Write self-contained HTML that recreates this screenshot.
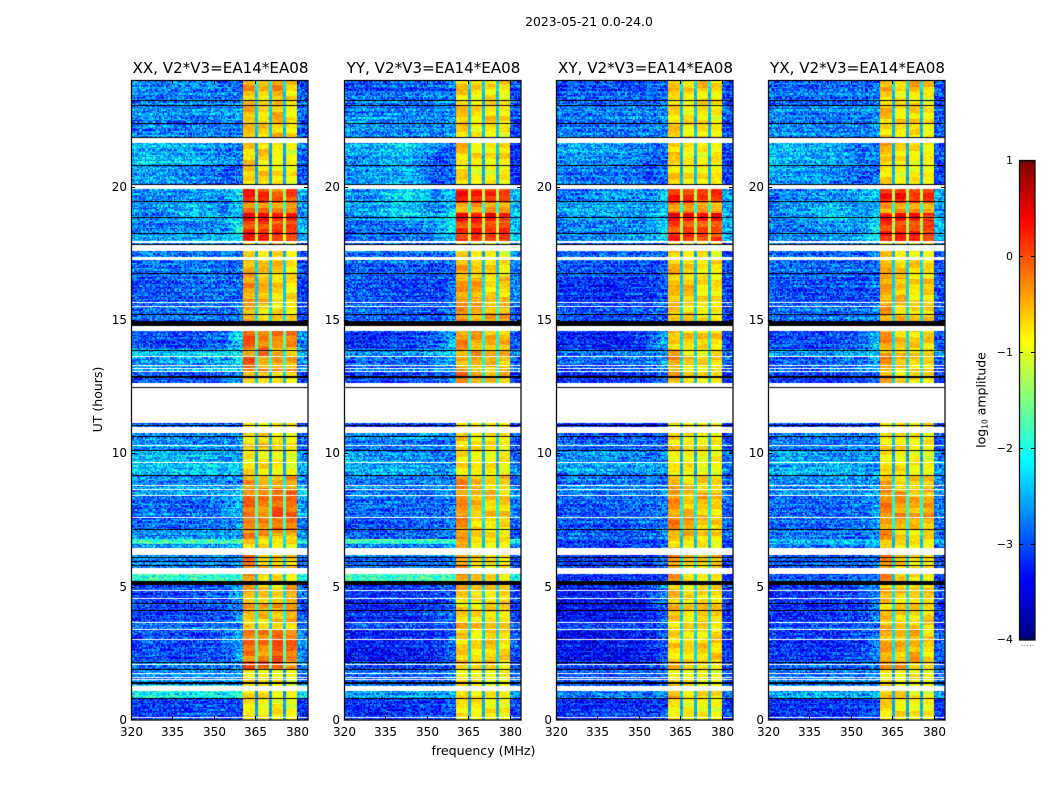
<!DOCTYPE html>
<html lang="en">
<head>
<meta charset="utf-8">
<title>2023-05-21 0.0-24.0</title>
<style>
html,body{margin:0;padding:0;background:#fff;}
#figure{position:relative;width:1050px;height:800px;overflow:hidden;background:#fff;font-family:"DejaVu Sans","Liberation Sans",sans-serif;}
canvas{position:absolute;display:block;}
svg{position:absolute;left:0;top:0;}
text{font-family:"DejaVu Sans","Liberation Sans",sans-serif;fill:#000;}
</style>
</head>
<body>
<div id="figure">
<canvas id="c0" width="177" height="640" style="left:131px;top:80px"></canvas>
<canvas id="c1" width="177" height="640" style="left:344px;top:80px"></canvas>
<canvas id="c2" width="177" height="640" style="left:556px;top:80px"></canvas>
<canvas id="c3" width="177" height="640" style="left:768px;top:80px"></canvas>
<svg id="overlay" width="1050" height="800" viewBox="0 0 1050 800">
<text x="589" y="26" font-size="12.4" text-anchor="middle">2023-05-21 0.0-24.0</text>
<text x="483.5" y="755" font-size="12.6" text-anchor="middle">frequency (MHz)</text>
<text transform="translate(102 399.5) rotate(-90)" font-size="12.5" text-anchor="middle">UT (hours)</text>
<text transform="translate(985.5 400) rotate(-90)" font-size="12.5" text-anchor="middle">log<tspan font-size="7.5" dy="2">10</tspan><tspan dy="-2"> amplitude</tspan></text>
</svg>
</div>
<script>
/* Axis tick labels */
const freqTicks = [320, 335, 350, 365, 380];
const utTicks = [0, 5, 10, 15, 20];
const colorTicks = [1, 0, -1, -2, -3, -4];
const panelTitles = ["XX, V2*V3=EA14*EA08", "YY, V2*V3=EA14*EA08", "XY, V2*V3=EA14*EA08", "YX, V2*V3=EA14*EA08"];

/* UT edges of the time segments (hours, descending) */
const segmentEdges = [24,23.6,23.05,22.6,21.85,21.2,20.8,20.06,19.4,19,18.7,18.3,17.97,17.25,16.6,15.6,14.97,13.9,13.6,13.05,12.65,11.12,10.75,10.1,9.66,9.19,8.68,8.4,7.6,7.17,6.9,6.79,6.6,6.19,5.71,5.22,4.57,3.67,3.4,2.2,1.92,1.29,0.8,0];

/* Frequency zones (MHz): one log10-amplitude value per zone in each row below */
const zoneEdges = [320,335,350,357,360.6,365,366,370.2,371,375,376,380,384];
const zoneSource = [0,1,2,3,4,-1,5,-1,6,-1,7,8];
const quietCentres = [327.5,342.5,353.5,358.8];

/* log10 amplitude per segment: 320-335, 335-350, 350-357, 357-360.6, band1, band2, band3, band4, 380-384 */
const seriesXX = [
[-2.5,-2.5,-2.6,-2.7,-0.45,-0.6,-0.4,-0.65,-2.9],
[-2.6,-2.6,-2.6,-2.6,-0.55,-0.75,-0.55,-0.8,-2.8],
[-2.5,-2.5,-2.5,-2.4,-0.5,-0.7,-0.5,-0.75,-2.7],
[-2.55,-2.6,-2.6,-2.5,-0.6,-0.7,-0.6,-0.8,-2.9],
[-2.3,-2.4,-2.6,-2.6,-0.6,-0.6,-0.7,-0.9,-2.7],
[-2.2,-2.3,-2.5,-2.6,-0.7,-0.8,-1.0,-0.9,-2.8],
[-2.4,-2.5,-2.7,-2.7,-0.6,-0.7,-0.8,-0.9,-2.9],
[-2.6,-2.5,-2.5,-2.1,0.2,0.15,-0.1,0.0,-2.5],
[-2.5,-2.2,-2.6,-2.3,-0.3,-0.3,-0.4,-0.4,-2.6],
[-2.6,-2.2,-2.4,-2.2,0.45,0.4,0.3,0.3,-2.5],
[-2.6,-2.6,-2.5,-1.9,0.1,0.1,0.0,0.0,-2.4],
[-2.4,-2.3,-2.3,-2.0,0.25,0.2,0.15,0.15,-2.5],
[-2.6,-2.6,-2.6,-2.6,-0.6,-0.8,-0.7,-0.95,-3.0],
[-2.7,-2.6,-2.7,-2.7,-0.45,-0.6,-0.6,-0.75,-2.9],
[-2.8,-2.7,-2.7,-2.7,-0.4,-0.55,-0.7,-0.8,-3.0],
[-2.7,-2.6,-2.7,-2.6,-0.5,-0.7,-0.7,-0.7,-3.0],
[-2.8,-2.9,-2.7,-2.1,-0.05,-0.2,-0.3,-0.3,-2.6],
[-2.2,-2.2,-2.1,-2.0,-0.4,-0.25,-0.5,-0.6,-2.4],
[-2.5,-2.5,-2.4,-2.2,-0.15,-0.4,-0.4,-0.5,-2.7],
[-2.8,-2.8,-2.7,-2.5,-0.5,-0.7,-0.8,-0.7,-3.0],
[-2.8,-2.8,-2.8,-2.8,-0.6,-0.7,-0.8,-0.8,-3.0],
[-2.7,-2.7,-2.7,-2.7,-0.7,-0.7,-0.8,-0.8,-2.9],
[-2.5,-2.5,-2.5,-2.5,-0.7,-0.65,-0.75,-0.85,-2.8],
[-2.3,-2.3,-2.4,-2.4,-0.8,-0.8,-0.9,-0.95,-2.6],
[-2.2,-2.2,-2.2,-2.2,-0.75,-0.75,-0.8,-0.9,-2.4],
[-2.5,-2.5,-2.5,-2.5,-0.45,-0.6,-0.6,-0.4,-2.6],
[-2.4,-2.4,-2.4,-2.3,-0.2,-0.25,-0.1,-0.2,-2.2],
[-2.7,-2.7,-2.6,-2.3,-0.15,-0.3,-0.05,-0.1,-2.5],
[-2.7,-2.7,-2.6,-2.4,-0.35,-0.4,-0.15,-0.2,-2.7],
[-2.5,-2.5,-2.5,-2.4,-0.3,-0.2,-0.5,-0.5,-2.6],
[-2.6,-2.6,-2.6,-2.5,-0.3,-0.6,-0.7,-0.7,-2.7],
[-1.65,-1.65,-1.65,-1.65,-0.6,-0.6,-0.7,-0.7,-2.0],
[-2.5,-2.5,-2.5,-2.4,-0.6,-0.7,-0.7,-0.8,-2.6],
[-2.5,-2.5,-2.5,-2.5,-0.25,-0.6,-0.6,-0.7,-2.8],
[-1.7,-1.7,-1.7,-1.7,-0.25,-0.7,-0.7,-0.8,-2.0],
[-2.9,-2.8,-2.7,-2.4,-0.5,-0.6,-0.7,-0.45,-2.7],
[-2.9,-2.9,-2.8,-2.5,-0.5,-0.55,-0.5,-0.45,-2.9],
[-2.6,-2.6,-2.6,-2.6,-0.7,-0.7,-0.8,-0.8,-2.8],
[-2.85,-2.9,-2.8,-2.4,-0.2,-0.3,-0.05,-0.2,-2.6],
[-2.6,-2.6,-2.6,-2.5,0.0,-0.1,0.0,-0.3,-2.6],
[-2.5,-2.5,-2.5,-2.5,-0.8,-0.8,-0.9,-1.0,-2.7],
[-1.85,-1.85,-1.85,-1.8,-0.7,-0.8,-0.9,-1.0,-2.1],
[-3.0,-2.9,-2.9,-2.9,-0.8,-0.85,-0.85,-0.95,-3.1]
];
const seriesYY = [
[-2.9,-2.8,-2.8,-2.7,-0.6,-0.7,-0.65,-0.75,-3.0],
[-2.6,-2.6,-2.6,-2.6,-0.7,-0.85,-0.75,-0.85,-2.9],
[-2.6,-2.6,-2.6,-2.5,-0.6,-0.8,-0.7,-0.8,-2.9],
[-2.5,-2.6,-2.6,-2.5,-0.65,-0.8,-0.7,-0.8,-3.0],
[-2.4,-2.1,-2.6,-2.7,-0.6,-0.8,-0.8,-0.75,-3.1],
[-2.5,-2.2,-2.8,-2.7,-0.75,-0.85,-0.9,-0.8,-3.1],
[-2.5,-2.3,-2.8,-2.7,-0.75,-0.9,-0.85,-0.85,-3.1],
[-2.5,-2.0,-2.5,-2.2,0.25,0.15,0.1,0.0,-2.3],
[-2.4,-2.2,-2.6,-2.2,-0.4,-0.35,-0.4,-0.5,-2.4],
[-2.5,-2.1,-2.3,-2.0,0.35,0.25,0.35,0.25,-2.3],
[-2.7,-2.6,-2.5,-2.0,0.05,0.1,0.0,0.05,-2.3],
[-2.7,-2.6,-2.5,-2.1,0.05,0.2,0.05,0.1,-2.3],
[-2.7,-2.7,-2.7,-2.6,-0.65,-0.9,-0.8,-0.95,-2.6],
[-2.7,-2.7,-2.8,-2.7,-0.5,-0.7,-0.75,-0.8,-2.6],
[-2.8,-2.9,-2.9,-2.7,-0.4,-0.45,-0.7,-0.65,-2.7],
[-2.7,-2.8,-2.8,-2.6,-0.35,-0.5,-0.5,-0.5,-2.9],
[-3.0,-2.9,-2.7,-2.3,-0.35,-0.45,-0.5,-0.55,-2.9],
[-2.5,-2.5,-2.4,-2.2,-0.45,-0.5,-0.6,-0.6,-2.6],
[-2.7,-2.7,-2.6,-2.4,-0.4,-0.45,-0.5,-0.55,-2.8],
[-2.9,-2.9,-2.8,-2.6,-0.2,-0.55,-0.6,-0.6,-3.0],
[-2.8,-2.8,-2.8,-2.8,-0.6,-0.7,-0.8,-0.8,-3.0],
[-2.9,-2.9,-2.8,-2.8,-0.7,-0.7,-0.8,-0.8,-3.0],
[-2.6,-2.6,-2.6,-2.6,-0.6,-0.75,-0.75,-0.8,-2.9],
[-2.4,-2.5,-2.6,-2.6,-0.75,-0.85,-0.85,-0.85,-2.8],
[-2.35,-2.4,-2.5,-2.5,-0.8,-0.85,-0.85,-0.9,-2.7],
[-2.6,-2.6,-2.6,-2.6,-0.3,-0.6,-0.6,-0.65,-2.8],
[-2.6,-2.6,-2.6,-2.5,-0.35,-0.35,-0.55,-0.6,-2.6],
[-2.7,-2.7,-2.7,-2.6,-0.35,-0.6,-0.65,-0.65,-2.7],
[-2.8,-2.8,-2.7,-2.6,-0.3,-0.65,-0.7,-0.7,-2.8],
[-2.7,-2.7,-2.7,-2.5,-0.35,-0.7,-0.75,-0.75,-2.8],
[-2.7,-2.7,-2.7,-2.6,-0.4,-0.75,-0.75,-0.8,-2.8],
[-1.65,-1.65,-1.65,-1.65,-0.6,-0.7,-0.8,-0.85,-2.0],
[-2.7,-2.7,-2.7,-2.5,-0.5,-0.75,-0.8,-0.85,-2.8],
[-2.7,-2.7,-2.7,-2.6,-0.35,-0.6,-0.7,-0.75,-2.9],
[-1.65,-1.65,-1.65,-1.65,-0.35,-0.6,-0.7,-0.8,-2.0],
[-3.0,-3.0,-2.9,-2.7,-0.6,-0.75,-0.75,-0.7,-3.0],
[-3.05,-3.0,-2.9,-2.7,-0.65,-0.75,-0.7,-0.7,-3.0],
[-2.8,-2.8,-2.8,-2.7,-0.55,-0.65,-0.65,-0.75,-2.9],
[-3.15,-3.15,-3.05,-2.75,-0.65,-0.75,-0.6,-0.7,-2.9],
[-2.9,-2.9,-2.9,-2.7,-0.65,-0.75,-0.7,-0.75,-2.9],
[-2.7,-2.7,-2.7,-2.6,-0.8,-0.85,-0.85,-0.9,-2.8],
[-2.4,-2.4,-2.4,-2.3,-0.7,-0.8,-0.85,-0.9,-2.5],
[-3.0,-3.0,-2.9,-2.8,-0.8,-0.85,-0.85,-0.9,-3.0]
];
const seriesXY = [
[-2.8,-2.75,-2.75,-2.7,-0.55,-0.7,-0.6,-0.7,-2.9],
[-2.7,-2.7,-2.7,-2.6,-0.75,-0.85,-0.75,-0.85,-2.9],
[-2.6,-2.6,-2.6,-2.5,-0.7,-0.8,-0.7,-0.8,-2.8],
[-2.6,-2.6,-2.6,-2.5,-0.7,-0.8,-0.75,-0.85,-2.9],
[-2.4,-2.4,-2.6,-2.7,-0.6,-0.75,-0.8,-0.8,-3.0],
[-2.5,-2.5,-2.7,-2.7,-0.75,-0.85,-0.9,-0.85,-3.0],
[-2.6,-2.6,-2.8,-2.7,-0.7,-0.85,-0.85,-0.85,-3.0],
[-2.6,-2.4,-2.5,-2.2,0.25,0.2,0.0,0.1,-2.5],
[-2.4,-2.3,-2.6,-2.3,-0.3,-0.35,-0.4,-0.5,-2.5],
[-2.5,-2.3,-2.5,-2.2,0.4,0.35,0.25,0.3,-2.4],
[-2.6,-2.6,-2.5,-2.1,0.05,0.05,-0.05,0.0,-2.4],
[-2.6,-2.5,-2.4,-2.1,0.2,0.15,0.1,0.1,-2.4],
[-2.7,-2.7,-2.7,-2.7,-0.7,-0.9,-0.8,-0.95,-3.0],
[-2.75,-2.75,-2.8,-2.7,-0.55,-0.7,-0.75,-0.8,-2.9],
[-3.0,-3.05,-2.95,-2.8,-0.6,-0.6,-0.8,-0.8,-3.0],
[-2.8,-2.85,-2.8,-2.7,-0.55,-0.7,-0.75,-0.75,-3.0],
[-3.05,-3.1,-2.9,-2.4,-0.55,-0.7,-0.7,-0.7,-3.0],
[-2.6,-2.7,-2.6,-2.4,-0.5,-0.7,-0.75,-0.75,-2.8],
[-2.8,-2.8,-2.7,-2.5,-0.4,-0.65,-0.7,-0.7,-2.9],
[-3.0,-3.0,-2.9,-2.7,-0.55,-0.75,-0.8,-0.8,-3.0],
[-2.9,-2.9,-2.9,-2.9,-0.7,-0.8,-0.8,-0.85,-3.0],
[-3.0,-3.0,-3.0,-2.9,-0.7,-0.8,-0.8,-0.85,-3.1],
[-2.7,-2.7,-2.7,-2.7,-0.7,-0.8,-0.8,-0.85,-2.9],
[-2.5,-2.5,-2.6,-2.6,-0.8,-0.85,-0.9,-0.9,-2.8],
[-2.4,-2.4,-2.45,-2.5,-0.85,-0.85,-0.9,-0.9,-2.7],
[-2.6,-2.6,-2.6,-2.6,-0.55,-0.75,-0.7,-0.75,-2.8],
[-2.6,-2.6,-2.6,-2.5,-0.35,-0.5,-0.55,-0.6,-2.7],
[-2.75,-2.75,-2.7,-2.6,-0.35,-0.55,-0.55,-0.65,-2.8],
[-2.8,-2.8,-2.7,-2.6,-0.3,-0.35,-0.6,-0.65,-2.8],
[-2.75,-2.75,-2.7,-2.6,-0.45,-0.6,-0.7,-0.75,-2.8],
[-2.8,-2.8,-2.75,-2.65,-0.5,-0.7,-0.8,-0.8,-2.9],
[-2.9,-2.9,-2.9,-2.8,-0.6,-0.75,-0.8,-0.85,-3.0],
[-2.9,-2.9,-2.85,-2.7,-0.55,-0.75,-0.8,-0.85,-3.0],
[-2.9,-2.9,-2.85,-2.7,-0.35,-0.6,-0.65,-0.55,-3.0],
[-3.0,-3.0,-3.0,-2.9,-0.3,-0.75,-0.75,-0.75,-3.1],
[-3.15,-3.1,-3.0,-2.6,-0.55,-0.75,-0.75,-0.7,-3.0],
[-3.2,-3.15,-3.05,-2.7,-0.6,-0.75,-0.65,-0.7,-3.1],
[-2.9,-2.9,-2.9,-2.8,-0.65,-0.7,-0.7,-0.75,-3.0],
[-3.2,-3.2,-3.1,-2.8,-0.7,-0.75,-0.7,-0.7,-3.0],
[-3.0,-3.0,-2.95,-2.8,-0.55,-0.7,-0.55,-0.75,-3.0],
[-2.8,-2.8,-2.8,-2.7,-0.8,-0.85,-0.9,-0.95,-2.9],
[-2.6,-2.6,-2.6,-2.5,-0.5,-0.75,-0.8,-0.8,-2.7],
[-3.05,-3.0,-3.0,-2.9,-0.8,-0.85,-0.85,-0.9,-3.05]
];
const seriesYX = [
[-2.75,-2.7,-2.7,-2.7,-0.5,-0.65,-0.55,-0.7,-2.9],
[-2.65,-2.65,-2.65,-2.6,-0.65,-0.8,-0.7,-0.85,-2.9],
[-2.55,-2.55,-2.55,-2.45,-0.6,-0.75,-0.65,-0.8,-2.8],
[-2.55,-2.6,-2.6,-2.5,-0.65,-0.75,-0.7,-0.85,-2.9],
[-2.3,-2.4,-2.6,-2.6,-0.45,-0.7,-0.75,-0.85,-2.9],
[-2.25,-2.35,-2.6,-2.6,-0.75,-0.85,-1.0,-0.9,-2.9],
[-2.4,-2.5,-2.7,-2.7,-0.7,-0.85,-0.85,-0.9,-3.0],
[-2.6,-2.4,-2.4,-2.2,0.2,0.2,0.0,0.05,-2.4],
[-2.5,-2.2,-2.5,-2.3,-0.4,-0.35,-0.45,-0.5,-2.5],
[-2.6,-2.1,-2.4,-2.2,0.35,0.3,0.3,0.25,-2.4],
[-2.6,-2.5,-2.5,-2.0,0.05,0.05,0.05,-0.05,-2.3],
[-2.5,-2.5,-2.4,-2.0,0.15,0.2,0.15,0.15,-2.3],
[-2.7,-2.7,-2.7,-2.6,-0.65,-0.85,-0.75,-0.9,-2.9],
[-2.7,-2.7,-2.75,-2.7,-0.5,-0.65,-0.7,-0.75,-2.9],
[-2.8,-2.85,-2.85,-2.7,-0.45,-0.55,-0.75,-0.65,-2.9],
[-2.7,-2.7,-2.7,-2.6,-0.45,-0.65,-0.7,-0.7,-3.0],
[-2.9,-2.9,-2.75,-2.3,-0.4,-0.6,-0.65,-0.7,-2.9],
[-2.5,-2.5,-2.4,-2.2,-0.55,-0.6,-0.7,-0.7,-2.6],
[-2.7,-2.7,-2.6,-2.4,-0.35,-0.6,-0.65,-0.7,-2.8],
[-2.9,-2.9,-2.8,-2.6,-0.45,-0.7,-0.75,-0.75,-3.0],
[-2.8,-2.8,-2.8,-2.8,-0.6,-0.7,-0.8,-0.8,-3.0],
[-2.9,-2.9,-2.9,-2.8,-0.7,-0.7,-0.8,-0.8,-3.0],
[-2.6,-2.6,-2.6,-2.6,-0.7,-0.75,-0.8,-0.85,-2.9],
[-2.4,-2.4,-2.5,-2.5,-0.8,-0.85,-0.9,-0.95,-2.7],
[-2.3,-2.3,-2.35,-2.4,-0.8,-0.85,-0.85,-0.9,-2.5],
[-2.55,-2.55,-2.55,-2.5,-0.5,-0.65,-0.7,-0.65,-2.7],
[-2.5,-2.5,-2.5,-2.4,-0.25,-0.35,-0.5,-0.45,-2.5],
[-2.7,-2.7,-2.65,-2.45,-0.3,-0.4,-0.5,-0.45,-2.7],
[-2.75,-2.75,-2.65,-2.5,-0.35,-0.5,-0.55,-0.55,-2.8],
[-2.6,-2.6,-2.6,-2.45,-0.35,-0.55,-0.7,-0.7,-2.7],
[-2.7,-2.7,-2.65,-2.55,-0.45,-0.7,-0.75,-0.8,-2.8],
[-2.2,-2.2,-2.2,-2.2,-0.6,-0.7,-0.8,-0.85,-2.4],
[-2.6,-2.6,-2.6,-2.5,-0.5,-0.7,-0.8,-0.85,-2.8],
[-2.75,-2.75,-2.7,-2.6,-0.3,-0.6,-0.7,-0.75,-2.9],
[-2.8,-2.8,-2.8,-2.7,-0.3,-0.7,-0.75,-0.8,-3.0],
[-3.0,-2.95,-2.85,-2.5,-0.55,-0.65,-0.7,-0.7,-2.9],
[-3.0,-3.0,-2.9,-2.6,-0.6,-0.65,-0.65,-0.65,-3.0],
[-2.75,-2.75,-2.75,-2.7,-0.6,-0.65,-0.7,-0.7,-2.9],
[-3.0,-3.0,-2.9,-2.6,-0.45,-0.55,-0.45,-0.7,-2.85],
[-2.8,-2.8,-2.75,-2.65,-0.4,-0.45,-0.6,-0.75,-2.85],
[-2.65,-2.65,-2.65,-2.6,-0.8,-0.85,-0.85,-0.95,-2.8],
[-2.4,-2.4,-2.4,-2.35,-0.5,-0.7,-0.85,-0.9,-2.6],
[-3.0,-2.95,-2.95,-2.85,-0.75,-0.8,-0.85,-0.9,-3.05]
];
const panelSeries = [seriesXX, seriesYY, seriesXY, seriesYX];

/* Flagged time ranges (UT hours): [start, end] — drawn white */
const maskedRanges = [[21.85,21.65],[20.06,19.9],[17.97,17.87],[17.8,17.6],[17.35,17.25],[15.69,15.65],[15.53,15.48],[14.79,14.59],[13.64,13.6],[13.31,13.29],[13.19,13.16],[13.08,13.05],[12.65,11.12],[10.97,10.75],[10.31,10.28],[9.66,9.63],[8.8,8.78],[8.68,8.65],[8.45,8.42],[7.61,7.58],[6.44,6.19],[5.71,5.49],[4.87,4.85],[4.57,4.55],[3.67,3.64],[3.42,3.4],[3.04,3.01],[2.1,2.07],[1.76,1.74],[1.62,1.6],[1.54,1.51],[1.29,1.09],[0.1,0.07]];
/* Dropped time ranges (UT hours): [start, end] — drawn black */
const droppedRanges = [[23.25,23.22],[23.07,23.04],[22.39,22.36],[21.88,21.85],[20.81,20.78],[20.11,20.08],[19.45,19.42],[18.86,18.83],[18.26,18.23],[17.86,17.83],[16.76,16.73],[15.22,15.19],[14.97,14.79],[13.89,13.86],[12.91,12.88],[12.86,12.83],[12.48,12.45],[11.08,11.04],[10.66,10.63],[10.12,10.09],[9.2,9.17],[7.18,7.15],[6.13,6.1],[5.98,5.95],[5.83,5.8],[5.22,5.08],[4.38,4.35],[4.11,4.08],[2.18,2.15],[1.93,1.9],[1.43,1.4],[1.39,1.36],[0.81,0.77]];

/* Estimated scatter (log10 units), hand-typed: channel speckle, thin row streaks, and wider band stripes */
const speckleTile = [0.12,-0.31,0.25,-0.08,0.38,-0.22,0.05,-0.41,0.18,0.31,-0.14,-0.35,0.09,0.27,-0.05,-0.28,0.42,-0.18,0.02,0.21,-0.38,0.14,-0.11,0.33,-0.25,0.07,0.29,-0.44,0.16,-0.02,0.36,-0.2,-0.09,0.23,-0.33,0.11,0.4,-0.16,-0.27,0.04,0.19,-0.37,0.3,-0.06,0.13,-0.24,0.35,-0.12,-0.4,0.26,0.01,-0.3,0.17,0.44,-0.19,-0.07,0.24,-0.34,0.1,0.32,-0.15,-0.26,0.06,0.39,-0.21,-0.03,0.2,-0.42,0.28,0.08,-0.13,-0.36,0.34,0.15,-0.23,-0.01,0.22,-0.32,0.43,-0.17,0.03,-0.29,0.37,-0.1,0.12,-0.39,0.26,0.0,-0.2,0.31,-0.06,0.16,-0.35,0.41,-0.24,0.07,-0.12];
const rowStreaks = [0.05,-0.04,0.12,0.02,-0.1,0.18,0.06,-0.02,-0.14,0.09,0.22,-0.06,0.0,-0.12,0.15,0.03,-0.08,0.25,0.1,-0.05,-0.16,0.04,0.13,-0.09,0.01,0.2,-0.03,-0.13,0.07,0.16,-0.07,-0.02,0.11,-0.15,0.08,0.19,-0.01,-0.11,0.14,0.0,-0.06,0.23,0.04,-0.1];
const bandStripes = [0.08,-0.12,0.2,0.05,-0.22,-0.06,0.26,0.1,-0.15,0.0,-0.28,0.14,0.22,-0.08,-0.18,0.3,0.04,-0.1,-0.25,0.16,0.06,-0.2,0.24,-0.04,0.12,-0.3,0.02,0.18,-0.14,0.28,-0.06,-0.24,0.1,0.2,-0.16,0.0,0.15];
const quietCalibration = -0.2;

/* Scales */
const figurePanels = [131, 344, 556, 768];
const panelWidth = 177, panelHeight = 640, panelTop = 80;
const freqMin = 320, freqMax = 384, utMax = 24;
const colorMin = -4, colorMax = 1;
const channelCount = 128, rowCount = 480;
const cbarLeft = 1019, cbarWidth = 16, cbarTop = 160, cbarHeight = 480;

function xScale(f){ return (f - freqMin) / (freqMax - freqMin) * panelWidth; }
function yScale(t){ return (utMax - t) / utMax * panelHeight; }
function colorY(v){ return cbarTop + (colorMax - v) / (colorMax - colorMin) * cbarHeight; }

function jetPart(x){ return Math.max(0, Math.min(1, 1.5 - Math.abs(x))); }
function jet(v){
  const t = Math.max(0, Math.min(1, (v - colorMin) / (colorMax - colorMin)));
  const r = jetPart(4 * t - 3), g = jetPart(4 * t - 2), b = jetPart(4 * t - 1);
  return "rgb(" + Math.round(r * 255) + "," + Math.round(g * 255) + "," + Math.round(b * 255) + ")";
}

function segmentOf(t){
  for (let i = 0; i < segmentEdges.length - 1; i++) {
    if (t <= segmentEdges[i] && t >= segmentEdges[i + 1]) return i;
  }
  return segmentEdges.length - 2;
}
function zoneOf(f){
  for (let i = 0; i < zoneEdges.length - 1; i++) {
    if (f >= zoneEdges[i] && f < zoneEdges[i + 1]) return i;
  }
  return zoneEdges.length - 2;
}
function quietLevel(values, f){
  if (f <= quietCentres[0]) return values[0];
  for (let i = 0; i < quietCentres.length - 1; i++) {
    if (f <= quietCentres[i + 1]) {
      const u = (f - quietCentres[i]) / (quietCentres[i + 1] - quietCentres[i]);
      return values[i] * (1 - u) + values[i + 1] * u;
    }
  }
  return values[3];
}

function cellValue(series, row, col, index){
  const t = utMax - (row + 0.5) / rowCount * utMax;
  const f = freqMin + (col + 0.5) / channelCount * (freqMax - freqMin);
  const values = series[segmentOf(t)];
  const src = zoneSource[zoneOf(f)];
  const r = row + index * 13;
  const spk = speckleTile[(r * r * 3 + r * 7 + col * col * 5 + col * r * 11 + col * 13) % speckleTile.length];
  const streak = rowStreaks[r % rowStreaks.length];
  if (src < 0) {
    const strongest = Math.min(values[4], values[5], values[6], values[7]);
    return -2.4 + (strongest + 0.8) * 1.4 + spk * 0.3;
  }
  if (src >= 4 && src <= 7) {
    const stripe = bandStripes[(Math.floor(r / 4) + src * 7) % bandStripes.length];
    return values[src] + spk * 0.3 + stripe * 0.7;
  }
  if (src < 4) return quietLevel(values, f) + quietCalibration + spk * 1.25 + streak;
  return values[src] + quietCalibration * 0.5 + spk * 1.25 + streak;
}

function drawHeatmap(index){
  const ctx = document.getElementById("c" + index).getContext("2d");
  const series = panelSeries[index];
  const df = (freqMax - freqMin) / channelCount, dt = utMax / rowCount;
  for (let r = 0; r < rowCount; r++) {
    const t0 = utMax - r * dt;
    const y0 = Math.round(yScale(t0)), y1 = Math.round(yScale(t0 - dt));
    for (let c = 0; c < channelCount; c++) {
      const f0 = freqMin + c * df;
      const x0 = Math.round(xScale(f0)), x1 = Math.round(xScale(f0 + df));
      ctx.fillStyle = jet(cellValue(series, r, c, index));
      ctx.fillRect(x0, y0, x1 - x0, y1 - y0);
    }
  }
  ctx.fillStyle = "#fff";
  maskedRanges.forEach(function(range){
    const y0 = Math.round(yScale(range[0]));
    ctx.fillRect(0, y0, panelWidth, Math.max(1, Math.round(yScale(range[1])) - y0));
  });
  ctx.fillStyle = "#000";
  droppedRanges.forEach(function(range){
    const y0 = Math.round(yScale(range[0]));
    ctx.fillRect(0, y0, panelWidth, Math.max(1, Math.round(yScale(range[1])) - y0));
  });
}

const svgNS = "http://www.w3.org/2000/svg";
const overlay = document.getElementById("overlay");
function make(tag, attrs, parent){
  const el = document.createElementNS(svgNS, tag);
  Object.keys(attrs).forEach(function(k){ el.setAttribute(k, attrs[k]); });
  (parent || overlay).appendChild(el);
  return el;
}

figurePanels.forEach(function(left, i){
  drawHeatmap(i);
  const right = left + panelWidth, bottom = panelTop + panelHeight;

  const group = make("g", {});
  
  

  const frame = make("rect", {x: left + 0.5, y: panelTop + 0.5, width: panelWidth - 0.5, height: panelHeight - 0.5, fill: "none", stroke: "#111", "stroke-width": 1.3}, group);
  
  

  const title = make("text", {x: left + panelWidth / 2 + 1, y: 73, "font-size": 15.1, "text-anchor": "middle"}, group);
  title.textContent = panelTitles[i];
  
  

  freqTicks.forEach(function(f){
    const x = Math.round(left + xScale(f)) + 0.5;
    const tick = make("path", {d: "M" + x + " " + bottom + "v-4M" + x + " " + panelTop + "v4", stroke: "#000", "stroke-width": 1, fill: "none"}, group);
    
    
    const label = make("text", {x: x, y: 736, "font-size": 12, "text-anchor": "middle"}, group);
    label.textContent = String(f);
    
    
  });

  utTicks.forEach(function(t){
    const y = Math.round(panelTop + yScale(t)) - 0.5 + (t === 0 ? 0 : 1);
    const tick = make("path", {d: "M" + left + " " + y + "h4M" + right + " " + y + "h-4", stroke: "#000", "stroke-width": 1, fill: "none"}, group);
    
    
    const label = make("text", {x: left - 4, y: y + (t === 0 ? 4.5 : 3.5), "font-size": 12, "text-anchor": "end"}, group);
    label.textContent = String(t);
    
    
  });
});

/* Colorbar */
const cbarGroup = make("g", {});


for (let i = 0; i < 256; i++) {
  const v0 = colorMax - i / 256 * (colorMax - colorMin);
  const v1 = colorMax - (i + 1) / 256 * (colorMax - colorMin);
  const swatch = make("rect", {x: cbarLeft, y: colorY(v0), width: cbarWidth, height: colorY(v1) - colorY(v0) + 0.5, fill: jet((v0 + v1) / 2)}, cbarGroup);
  
  
}
const cbarFrame = make("rect", {x: cbarLeft + 0.5, y: cbarTop + 0.5, width: cbarWidth - 0.5, height: cbarHeight - 0.5, fill: "none", stroke: "#111", "stroke-width": 1.3}, cbarGroup);


colorTicks.forEach(function(v){
  const y = Math.round(colorY(v)) + (v === colorMin ? -0.5 : 0.5);
  if (v !== colorMax && v !== colorMin) {
    const tick = make("path", {d: "M" + cbarLeft + " " + y + "h4M" + (cbarLeft + cbarWidth) + " " + y + "h-4", stroke: "#000", "stroke-width": 1, fill: "none"}, cbarGroup);
    
    
  }
  const label = make("text", {x: cbarLeft - 6, y: y + 3.5, "font-size": 11, "text-anchor": "end"}, cbarGroup);
  label.textContent = String(v).replace("-", "\u2212");
  
  
});
for (let i = 1; i < 6; i++) {
  const x = cbarLeft + i * 2.7 + 0.5;
  const minor = make("path", {d: "M" + x + " " + cbarTop + "v4M" + x + " " + (cbarTop + cbarHeight) + "v-4M" + x + " " + (cbarTop + cbarHeight + 5) + "v1", stroke: "#000", "stroke-width": 0.7, fill: "none", opacity: 0.7}, cbarGroup);
  
  
}
</script>
</body>
</html>
